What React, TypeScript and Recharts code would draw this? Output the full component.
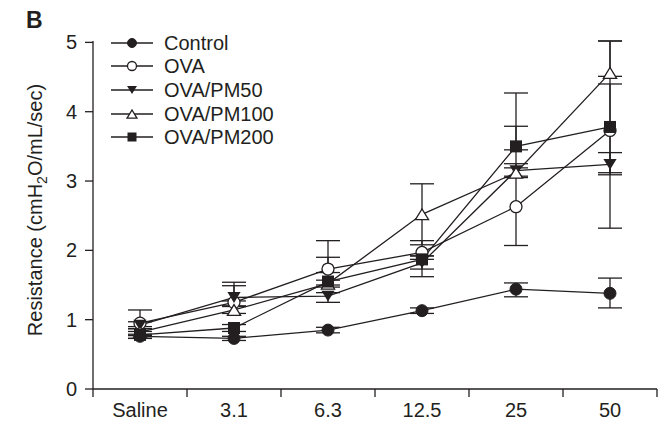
import { ComposedChart, Line, XAxis, YAxis, ErrorBar } from "recharts";

const CATEGORIES = ["Saline", "3.1", "6.3", "12.5", "25", "50"];

// means
const CONTROL = [0.76, 0.73, 0.85, 1.13, 1.44, 1.38];
const OVA = [0.95, 1.25, 1.73, 1.97, 2.63, 3.73];
const PM50 = [0.92, 1.32, 1.34, 1.82, 3.15, 3.24];
const PM100 = [0.82, 1.14, 1.52, 2.52, 3.12, 4.56];
const PM200 = [0.78, 0.88, 1.55, 1.87, 3.5, 3.78];

// error bar lengths below / above the mean
const CONTROL_LO = [0.03, 0.03, 0.04, 0.04, 0.11, 0.21];
const CONTROL_HI = [0.03, 0.03, 0.04, 0.04, 0.09, 0.22];
const OVA_LO = [0.05, 0.05, 0.05, 0.05, 0.56, 1.41];
const OVA_HI = [0.19, 0.29, 0.41, 0.17, 0.56, 1.29];
const PM50_LO = [0.05, 0.05, 0.09, 0.2, 0.1, 0.15];
const PM50_HI = [0.05, 0.17, 0.05, 0.05, 0.1, 0.17];
const PM100_LO = [0.05, 0.05, 0.05, 0.44, 0.05, 0.05];
const PM100_HI = [0.05, 0.05, 0.05, 0.44, 0.67, 0.46];
const PM200_LO = [0.05, 0.05, 0.05, 0.14, 0.05, 0.66];
const PM200_HI = [0.05, 0.05, 0.35, 0.05, 0.77, 0.62];

const Y_TICKS = [0, 1, 2, 3, 4, 5];
const X_TICKS = [0, 0.5, 1, 1.5, 2, 2.5, 3, 3.5, 4, 4.5, 5, 5.5, 6];

const INK = "#231f20";
const FONT = "'Liberation Sans', Arial, sans-serif";
const FS = 20;

type Shape = "circle" | "openCircle" | "triDown" | "triUp" | "square";

const SERIES: { key: string; label: string; shape: Shape }[] = [
  { key: "control", label: "Control", shape: "circle" },
  { key: "ova", label: "OVA", shape: "openCircle" },
  { key: "pm50", label: "OVA/PM50", shape: "triDown" },
  { key: "pm100", label: "OVA/PM100", shape: "triUp" },
  { key: "pm200", label: "OVA/PM200", shape: "square" },
];

const rows = CATEGORIES.map((name, i) => ({
  x: i + 0.5,
  name,
  control: CONTROL[i],
  controlErr: [CONTROL_LO[i], CONTROL_HI[i]],
  ova: OVA[i],
  ovaErr: [OVA_LO[i], OVA_HI[i]],
  pm50: PM50[i],
  pm50Err: [PM50_LO[i], PM50_HI[i]],
  pm100: PM100[i],
  pm100Err: [PM100_LO[i], PM100_HI[i]],
  pm200: PM200[i],
  pm200Err: [PM200_LO[i], PM200_HI[i]],
}));

function Marker({ cx, cy, shape, s }: { cx: number; cy: number; shape: Shape; s: number }) {
  if (shape === "circle") return <circle cx={cx} cy={cy} r={s} fill={INK} stroke={INK} />;
  if (shape === "openCircle")
    return <circle cx={cx} cy={cy} r={s} fill="#fff" stroke={INK} strokeWidth={1.3} />;
  if (shape === "square")
    return <rect x={cx - s} y={cy - s} width={s * 2} height={s * 2} fill={INK} />;
  const h = s * 1.8;
  if (shape === "triDown")
    return (
      <polygon
        points={`${cx - s * 1.1},${cy - h / 2} ${cx + s * 1.1},${cy - h / 2} ${cx},${cy + h / 2}`}
        fill={INK}
      />
    );
  return (
    <polygon
      points={`${cx - s * 1.1},${cy + h / 2} ${cx + s * 1.1},${cy + h / 2} ${cx},${cy - h / 2}`}
      fill="#fff"
      stroke={INK}
      strokeWidth={1.3}
    />
  );
}

function XTick(props: any) {
  const { x, y, payload } = props;
  const v = payload.value as number;
  if (Number.isInteger(v)) {
    return <line x1={x} y1={y} x2={x} y2={y + 8} stroke={INK} strokeWidth={1.3} />;
  }
  return (
    <text x={x} y={y + 23} textAnchor="middle" dominantBaseline="middle" fontSize={FS} fill={INK} fontFamily={FONT}>
      {CATEGORIES[Math.floor(v)]}
    </text>
  );
}

function YLabel() {
  return (
    <text
      x={42}
      y={210}
      transform="rotate(-90, 42, 210)"
      textAnchor="middle"
      fontSize={FS}
      fill={INK}
      fontFamily={FONT}
    >
      Resistance (cmH
      <tspan dy={5} fontSize={14}>2</tspan>
      <tspan dy={-5}>O/mL/sec)</tspan>
    </text>
  );
}

function LegendBox() {
  return (
    <div style={{ position: "absolute", left: 111, top: 31, fontFamily: FONT, fontSize: FS, color: INK }}>
      {SERIES.map((s) => (
        <div key={s.key} style={{ display: "flex", alignItems: "center", height: 23.6 }}>
          <svg width={42} height={16}>
            <line x1={0} y1={8} x2={42} y2={8} stroke={INK} strokeWidth={1.3} />
            <Marker cx={21} cy={8} shape={s.shape} s={4.5} />
          </svg>
          <span style={{ marginLeft: 11, lineHeight: 1 }}>{s.label}</span>
        </div>
      ))}
    </div>
  );
}

export default function App() {
  return (
    <div style={{ position: "absolute", left: 0, top: 0, width: 665, height: 424, background: "#fff" }}>
      <ComposedChart width={665} height={424} data={rows} margin={{ top: 41, right: 8, bottom: 0, left: 0 }}>
        <XAxis
          dataKey="x"
          type="number"
          domain={[0, 6]}
          ticks={X_TICKS}
          interval={0}
          tick={<XTick />}
          tickLine={false}
          tickSize={0}
          tickMargin={0}
          height={35}
          stroke={INK}
          strokeWidth={1.3}
        />
        <YAxis
          type="number"
          domain={[0, 5]}
          ticks={Y_TICKS}
          interval={0}
          width={93}
          tickSize={8}
          tickMargin={8}
          stroke={INK}
          strokeWidth={1.3}
          tick={{ fontSize: FS, fill: INK, fontFamily: FONT }}
          label={<YLabel />}
        />
        {/* error bars first so every marker sits on top of them */}
        {SERIES.map((s) => (
          <Line
            key={`${s.key}-err`}
            dataKey={s.key}
            stroke="none"
            dot={false}
            activeDot={false}
            legendType="none"
            isAnimationActive={false}
          >
            <ErrorBar dataKey={`${s.key}Err`} width={12} stroke={INK} strokeWidth={1.3} direction="y" />
          </Line>
        ))}
        {SERIES.map((s) => (
          <Line
            key={s.key}
            dataKey={s.key}
            name={s.label}
            stroke={INK}
            strokeWidth={1.3}
            isAnimationActive={false}
            dot={(p: any) => <Marker key={`${s.key}-${p.index}`} cx={p.cx} cy={p.cy} shape={s.shape} s={6} />}
            activeDot={false}
          />
        ))}
      </ComposedChart>
      <LegendBox />
      <div
        style={{
          position: "absolute",
          left: 26,
          top: 9,
          fontFamily: FONT,
          fontWeight: "bold",
          fontSize: 23,
          lineHeight: "23px",
          color: INK,
        }}
      >
        B
      </div>
    </div>
  );
}
